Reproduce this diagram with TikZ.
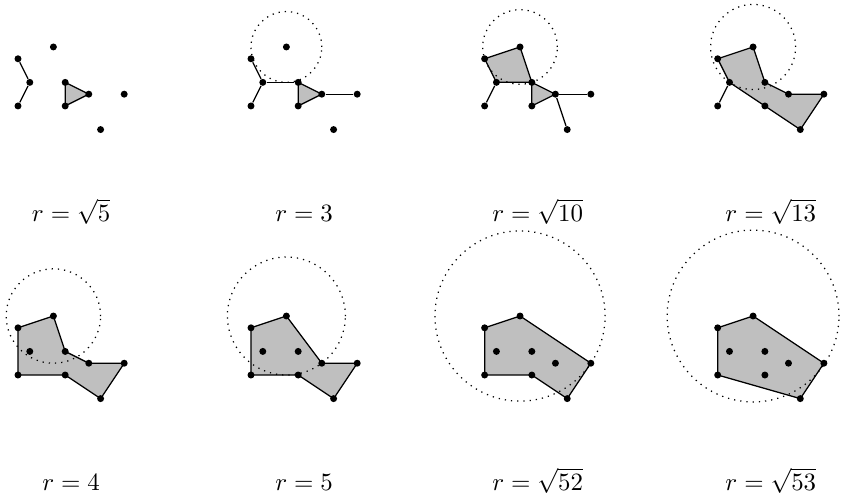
\documentclass[tikz,border=0pt]{standalone}
\usepackage{amsmath,amssymb}
\usepackage{tikz}
\usetikzlibrary{backgrounds}

% the nine sample points of one panel, named by prefix
\newcommand{\cloud}[1]{%
  \node[pt] (#1a) at (0,6) {};
  \node[pt] (#1b) at (1,4) {};
  \node[pt] (#1c) at (0,2) {};
  \node[pt] (#1d) at (3,7) {};
  \node[pt] (#1e) at (4,4) {};
  \node[pt] (#1f) at (4,2) {};
  \node[pt] (#1g) at (6,3) {};
  \node[pt] (#1h) at (9,3) {};
  \node[pt] (#1i) at (7,0) {};
}

\begin{document}
\begin{tikzpicture}[x=0.16667cm, y=0.16667cm,
  pt/.style={circle, fill=black, inner sep=0pt, minimum size=2.8pt},
  edge/.style={draw=black, line width=0.5pt},
  hull/.style={fill=black!25, draw=black, line width=0.5pt, line join=round},
  ball/.style={draw=black, dotted, line width=0.5pt},
  rlabel/.style={anchor=base}
]
  \useasboundingbox (0,0) rectangle (71.27,42.2);

  % top row
  \begin{scope}[shift={(1.525,31.22)}]
    \cloud{s}
    \begin{pgfonlayer}{background}
      \path[hull] (se.center) -- (sf.center) -- (sg.center) -- cycle;
    \end{pgfonlayer}
    \draw[edge] (sa) -- (sb) -- (sc);
    \node[rlabel] (slab) at (4.5,-7.77) {$r=\sqrt{5}$};
  \end{scope}

  \begin{scope}[shift={(21.27,31.22)}]
    \cloud{t}
    \begin{pgfonlayer}{background}
      \path[hull] (te.center) -- (tf.center) -- (tg.center) -- cycle;
      \draw[ball] (td) circle[radius=3];
    \end{pgfonlayer}
    \draw[edge] (ta) -- (tb) -- (tc);
    \draw[edge] (tb) -- (te);
    \draw[edge] (tg) -- (th);
    \node[rlabel] (tlab) at (4.5,-7.77) {$r=3$};
  \end{scope}

  \begin{scope}[shift={(41.07,31.22)}]
    \cloud{u}
    \begin{pgfonlayer}{background}
      \path[hull] (ua.center) -- (ud.center) -- (ue.center) -- (ub.center) -- cycle;
      \path[hull] (ue.center) -- (ug.center) -- (uf.center) -- cycle;
      \draw[ball] (ud) circle[radius={sqrt(10)}];
    \end{pgfonlayer}
    \draw[edge] (ub) -- (uc);
    \draw[edge] (ug) -- (uh);
    \draw[edge] (ug) -- (ui);
    \node[rlabel] (ulab) at (4.5,-7.77) {$r=\sqrt{10}$};
  \end{scope}

  \begin{scope}[shift={(60.82,31.22)}]
    \cloud{v}
    \begin{pgfonlayer}{background}
      \path[hull] (va.center) -- (vd.center) -- (ve.center) -- (vg.center)
        -- (vh.center) -- (vi.center) -- (vf.center) -- (vb.center) -- cycle;
      \draw[ball] (vd) circle[radius={sqrt(13)}];
    \end{pgfonlayer}
    \draw[edge] (vb) -- (vc);
    \node[rlabel] (vlab) at (4.5,-7.77) {$r=\sqrt{13}$};
  \end{scope}

  % bottom row
  \begin{scope}[shift={(1.525,8.42)}]
    \cloud{w}
    \begin{pgfonlayer}{background}
      \path[hull] (wa.center) -- (wd.center) -- (we.center) -- (wg.center)
        -- (wh.center) -- (wi.center) -- (wf.center) -- (wc.center) -- cycle;
      \draw[ball] (wd) circle[radius=4];
    \end{pgfonlayer}
    \node[rlabel] (wlab) at (4.5,-7.77) {$r=4$};
  \end{scope}

  \begin{scope}[shift={(21.27,8.42)}]
    \cloud{x}
    \begin{pgfonlayer}{background}
      \path[hull] (xa.center) -- (xd.center) -- (xg.center) -- (xh.center)
        -- (xi.center) -- (xf.center) -- (xc.center) -- cycle;
      \draw[ball] (xd) circle[radius=5];
    \end{pgfonlayer}
    \node[rlabel] (xlab) at (4.5,-7.77) {$r=5$};
  \end{scope}

  \begin{scope}[shift={(41.07,8.42)}]
    \cloud{y}
    \begin{pgfonlayer}{background}
      \path[hull] (ya.center) -- (yd.center) -- (yh.center) -- (yi.center)
        -- (yf.center) -- (yc.center) -- cycle;
      \draw[ball] (yd) circle[radius={sqrt(52)}];
    \end{pgfonlayer}
    \node[rlabel] (ylab) at (4.5,-7.77) {$r=\sqrt{52}$};
  \end{scope}

  \begin{scope}[shift={(60.82,8.42)}]
    \cloud{z}
    \begin{pgfonlayer}{background}
      \path[hull] (za.center) -- (zd.center) -- (zh.center) -- (zi.center)
        -- (zc.center) -- cycle;
      \draw[ball] (zd) circle[radius={sqrt(53)}];
    \end{pgfonlayer}
    \node[rlabel] (zlab) at (4.5,-7.77) {$r=\sqrt{53}$};
  \end{scope}
\end{tikzpicture}
\end{document}
